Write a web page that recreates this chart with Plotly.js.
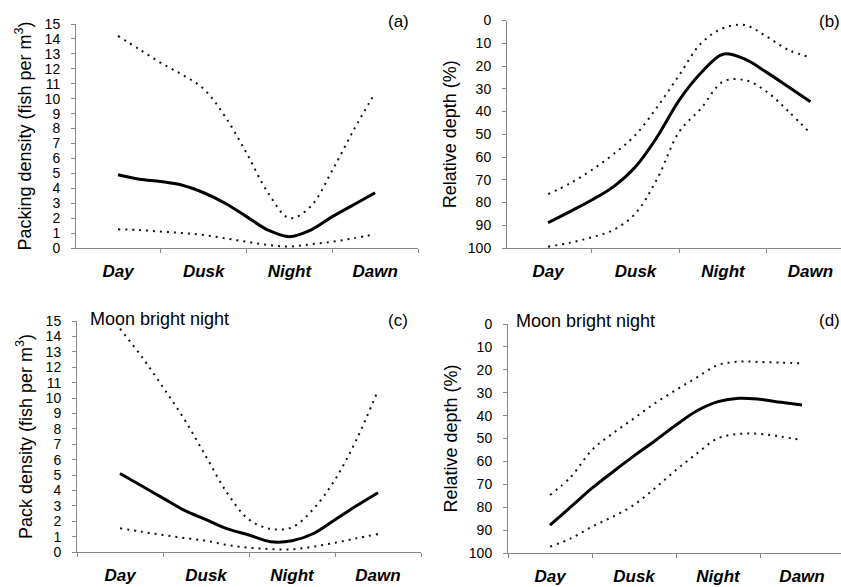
<!DOCTYPE html>
<html><head><meta charset="utf-8">
<script src="https://cdn.plot.ly/plotly-3.0.1.min.js"></script>
<style>html,body{margin:0;padding:0;background:#fff}#chart{width:841px;height:587px}</style>
</head><body><div id="chart"></div><script>
// ---- data ----
const periods = ['Day', 'Dusk', 'Night', 'Dawn'];
const periodPos = [0, 1, 2, 3];
const xs = [0, 0.25, 0.5, 0.75, 1, 1.25, 1.5, 1.75, 2, 2.25, 2.5, 2.75, 3];

// (a) packing density, normal night
const aUpper = [14.2, 13.3, 12.4, 11.6, 10.65, 8.8, 6.35, 3.7, 2.0, 2.8, 5.2, 7.9, 10.4];
const aMean  = [4.9, 4.6, 4.45, 4.2, 3.7, 3.0, 2.1, 1.2, 0.76, 1.2, 2.1, 2.9, 3.7];
const aLower = [1.25, 1.2, 1.1, 1.0, 0.87, 0.65, 0.42, 0.2, 0.1, 0.25, 0.42, 0.65, 0.92];

// (b) relative depth, normal night
const bUpper = [76.3, 71.6, 65.7, 58.7, 50.3, 37.9, 24, 10, 3.4, 2, 7.1, 13, 16.2];
const bMean  = [88.9, 84, 78.9, 73, 64.3, 51, 35, 23, 14.8, 17, 22.8, 29.2, 35.7];
const bLower = [99.4, 97.7, 95.3, 92, 84.8, 69.4, 48.9, 38.6, 26.9, 26.2, 31.3, 40, 49.6];

// (c) pack density, moon bright night
const cUpper = [14.5, 12.7, 10.7, 8.6, 6.2, 3.8, 2.1, 1.5, 1.6, 2.8, 4.7, 7.3, 10.5];
const cMean  = [5.1, 4.3, 3.5, 2.7, 2.1, 1.5, 1.1, 0.67, 0.73, 1.2, 2.1, 3.0, 3.85];
const cLower = [1.54, 1.32, 1.1, 0.91, 0.73, 0.45, 0.28, 0.19, 0.17, 0.35, 0.6, 0.89, 1.17];

// (d) relative depth, moon bright night
const dUpper = [74.7, 66.7, 55, 47.7, 41.2, 34.6, 28.8, 23.3, 17.9, 16.4, 16.6, 16.9, 17.2];
const dMean  = [87.8, 79.8, 71.7, 64.5, 57.6, 51, 44.1, 37.9, 33.9, 32.4, 32.9, 34.2, 35.4];
const dLower = [97.2, 93.6, 88.5, 84.1, 79, 71.7, 63.8, 56.5, 49.9, 48, 48, 49.2, 50.7];

const densTicks = [0,1,2,3,4,5,6,7,8,9,10,11,12,13,14,15];
const depthTicks = [0,10,20,30,40,50,60,70,80,90,100];

// ---- figure ----
const W = 841, H = 587;
const px = v => v / W;
const py = v => 1 - v / H;
const FONT = 'Liberation Sans, Arial, sans-serif';

function band(x, y, xa, ya) {
  return {x: x, y: y, xaxis: xa, yaxis: ya, type: 'scatter', mode: 'lines',
    line: {color: '#111', width: 2, dash: '2px,5px', shape: 'spline', smoothing: 1},
    hoverinfo: 'skip', showlegend: false};
}
function mean(x, y, xa, ya) {
  return {x: x, y: y, xaxis: xa, yaxis: ya, type: 'scatter', mode: 'lines',
    line: {color: '#000', width: 3, shape: 'spline', smoothing: 1},
    hoverinfo: 'skip', showlegend: false};
}

const data = [
  band(xs, aUpper, 'x', 'y'), mean(xs, aMean, 'x', 'y'), band(xs, aLower, 'x', 'y'),
  band(xs, bUpper, 'x2', 'y2'), mean(xs, bMean, 'x2', 'y2'), band(xs, bLower, 'x2', 'y2'),
  band(xs, cUpper, 'x3', 'y3'), mean(xs, cMean, 'x3', 'y3'), band(xs, cLower, 'x3', 'y3'),
  band(xs, dUpper, 'x4', 'y4'), mean(xs, dMean, 'x4', 'y4'), band(xs, dLower, 'x4', 'y4')
];

const catText = periods.map(p => '<b><i>' + p + '</i></b>');

function xaxis(domain, range, anchor) {
  return {domain: domain, range: range, anchor: anchor, showgrid: false, zeroline: false,
    showline: true, linecolor: '#888', linewidth: 1,
    tickmode: 'array', tickvals: periodPos, ticktext: catText, ticks: '',
    ticklabelstandoff: 8,
    tickfont: {family: FONT, size: 17, color: '#000'},
    minor: {ticks: 'outside', ticklen: 4, tickcolor: '#888', tickwidth: 1, tickmode: 'linear', tick0: 0.5, dtick: 1}};
}
function yaxis(domain, range, ticks, anchor, title, standoff) {
  return {domain: domain, range: range, anchor: anchor, showgrid: false, zeroline: false,
    showline: true, linecolor: '#888', linewidth: 1,
    tickmode: 'array', tickvals: ticks, ticks: 'outside', ticklen: 4, tickcolor: '#888',
    ticklabelstandoff: 8,
    tickfont: {family: FONT, size: 14, color: '#000'},
    title: {text: title, font: {family: FONT, size: 18, color: '#000'}, standoff: standoff}};
}

const layout = {
  width: W, height: H,
  margin: {l: 0, r: 0, t: 0, b: 0},
  paper_bgcolor: '#fff', plot_bgcolor: 'rgba(0,0,0,0)',
  showlegend: false,
  xaxis:  xaxis([px(76), px(418)], [-0.49, 3.5], 'y'),
  yaxis:  yaxis([py(248), py(24)], [0, 15], densTicks, 'x', 'Packing density (fish per m<sup>3</sup>)', 8),
  xaxis2: xaxis([px(507), px(841)], [-0.469, 3.349], 'y2'),
  yaxis2: yaxis([py(248), py(20.5)], [100, 0], depthTicks, 'x2', 'Relative depth (%)', 6),
  xaxis3: xaxis([px(77), px(421)], [-0.5, 3.5], 'y3'),
  yaxis3: yaxis([py(552), py(321)], [0, 15], densTicks, 'x3', 'Pack density (fish per m<sup>3</sup>)', 8),
  xaxis4: xaxis([px(508), px(841)], [-0.5, 3.464], 'y4'),
  yaxis4: yaxis([py(553), py(324)], [100, 0], depthTicks, 'x4', 'Relative depth (%)', 6),
  annotations: [
    {text: '(a)', x: px(398), y: py(21)},
    {text: '(b)', x: px(829), y: py(21)},
    {text: '(c)', x: px(398), y: py(320)},
    {text: '(d)', x: px(829), y: py(320)},
    {text: 'Moon bright night', x: px(88), y: py(319), xanchor: 'left', font: {family: FONT, size: 18, color: '#000'}},
    {text: 'Moon bright night', x: px(514), y: py(321), xanchor: 'left', font: {family: FONT, size: 18, color: '#000'}}
  ].map(a => Object.assign({xref: 'paper', yref: 'paper', showarrow: false, xanchor: 'center', yanchor: 'middle',
      font: {family: FONT, size: 17, color: '#000'}}, a))
};

Plotly.newPlot('chart', data, layout, {staticPlot: true, displayModeBar: false});
</script></body></html>
